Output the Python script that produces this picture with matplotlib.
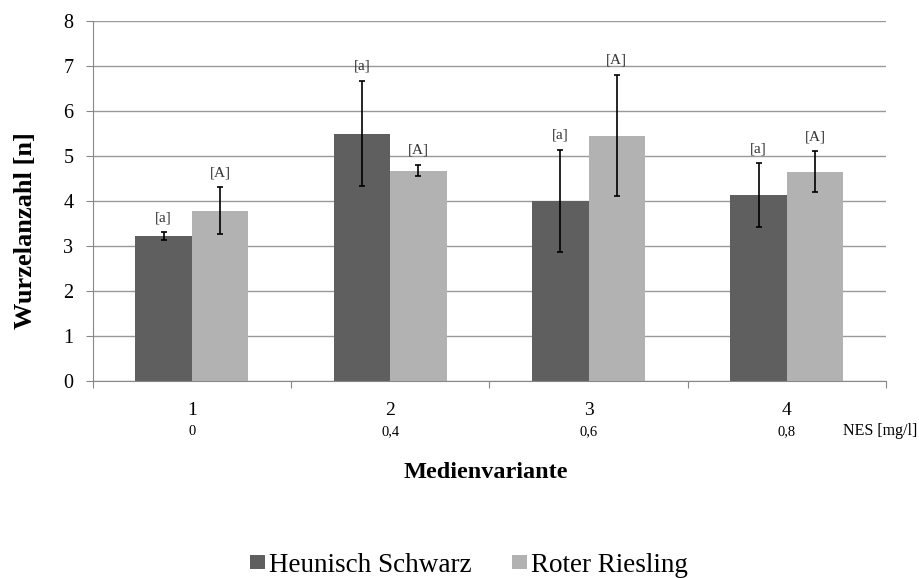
import numpy as np
import matplotlib.pyplot as plt

# Wurzelanzahl je Medienvariante (Mittelwert und Fehler)
varianten = ['1', '2', '3', '4']
nes_konz = ['0', '0,4', '0,6', '0,8']
heunisch = [3.22, 5.49, 4.00, 4.12]
heunisch_err = [0.08, 1.17, 1.13, 0.71]
riesling = [3.78, 4.67, 5.45, 4.65]
riesling_err = [0.52, 0.12, 1.34, 0.45]
sig_heunisch = ['[a]', '[a]', '[a]', '[a]']
sig_riesling = ['[A]', '[A]', '[A]', '[A]']

plt.rcParams['font.family'] = ['Liberation Serif', 'DejaVu Serif']

fig = plt.figure(figsize=(9.19, 5.78), dpi=100)
ax = fig.add_axes([0.101, 0.341, 0.863, 0.623])

x = np.arange(1, len(varianten) + 1)
w = 0.285
dunkel = '#5f5f5f'
hell = '#b2b2b2'

b1 = ax.bar(x - w / 2, heunisch, w, color=dunkel, zorder=2, label='Heunisch Schwarz')
b2 = ax.bar(x + w / 2, riesling, w, color=hell, zorder=2, label='Roter Riesling')
ax.errorbar(x - w / 2, heunisch, yerr=heunisch_err, fmt='none', ecolor='black',
            elinewidth=1.2, capsize=2.5, capthick=1.2, zorder=3)
ax.errorbar(x + w / 2, riesling, yerr=riesling_err, fmt='none', ecolor='black',
            elinewidth=1.2, capsize=2.5, capthick=1.2, zorder=3)

for xi, v, e, s in zip(x - w / 2, heunisch, heunisch_err, sig_heunisch):
    ax.annotate(s, (xi, v + e), xytext=(0, 6), textcoords='offset points',
                ha='center', va='bottom', fontsize=11, color='#333333')
for xi, v, e, s in zip(x + w / 2, riesling, riesling_err, sig_riesling):
    ax.annotate(s, (xi, v + e), xytext=(0, 6), textcoords='offset points',
                ha='center', va='bottom', fontsize=11, color='#333333')

ax.set_xlim(0.5, 4.5)
ax.set_ylim(0, 8)
ax.set_yticks(range(0, 9))
ax.tick_params(axis='y', labelsize=14.5, length=5, pad=9, color='#888888')
ax.yaxis.grid(True, color='#999999', linewidth=1, zorder=0)
ax.set_axisbelow(True)

# Gruppengrenzen als Ticks, Beschriftung mittig darunter
ax.set_xticks(np.arange(0.5, 5, 1))
ax.set_xticklabels([])
ax.tick_params(axis='x', length=5, color='#888888')
for xi, v, c in zip(x, varianten, nes_konz):
    ax.text(xi, -0.75, v, ha='center', va='baseline', fontsize=14)
    ax.text(xi, -1.2, c, ha='center', va='baseline', fontsize=10.5)
fig.text(0.998, 1 - 435 / 578, 'NES [mg/l]', ha='right', va='baseline', fontsize=11.5)

for side in ['top', 'right']:
    ax.spines[side].set_visible(False)
ax.spines['left'].set_color('#888888')
ax.spines['bottom'].set_color('#888888')

ax.set_ylabel('Wurzelanzahl [n]', fontsize=19, fontweight='bold', va='center')
ax.yaxis.set_label_coords(-0.085, 0.417)
fig.text(0.529, 1 - 472 / 578, 'Medienvariante', ha='center', va='center',
         fontsize=17.5, fontweight='bold')

fig.legend(handles=[b1, b2], loc='center', bbox_to_anchor=(0.51, 1 - 565 / 578),
           ncol=2, frameon=False, fontsize=19.5, handlelength=0.55,
           handleheight=0.45, handletextpad=0.15, columnspacing=1.5,
           borderaxespad=0, borderpad=0)

fig.savefig('out.png', dpi=100)
